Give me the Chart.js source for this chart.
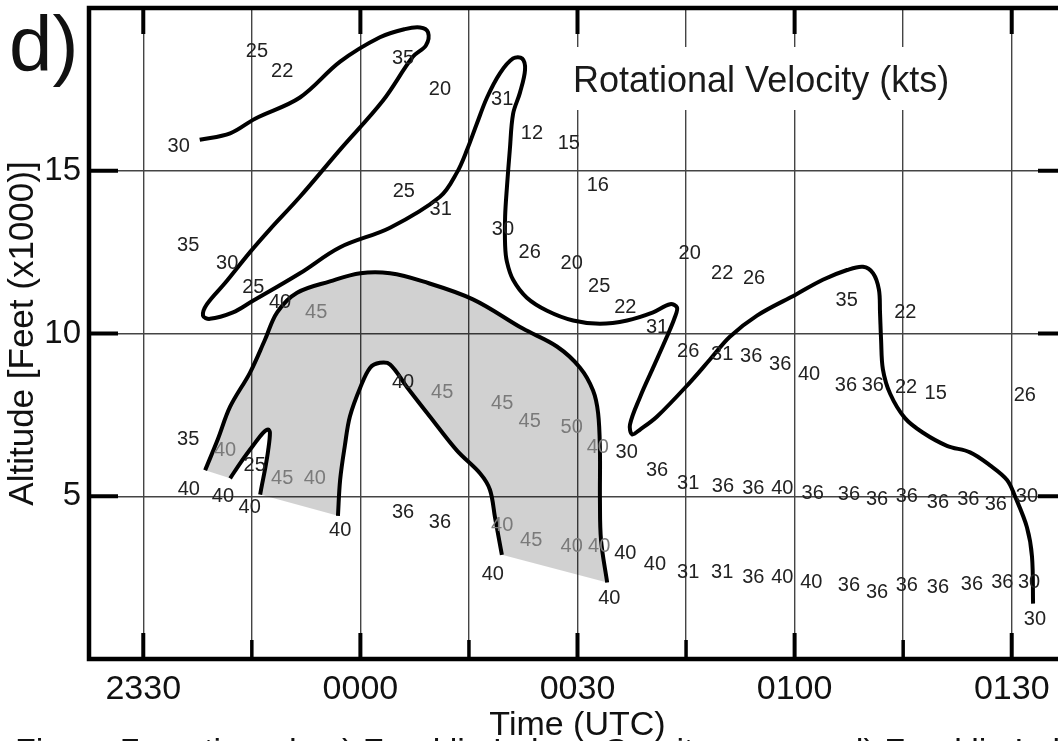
<!DOCTYPE html>
<html>
<head>
<meta charset="utf-8">
<script src="https://cdn.jsdelivr.net/npm/chart.js@4.4.0/dist/chart.umd.min.js"></script>
<style>
  html, body { margin: 0; padding: 0; background: #fff; overflow: hidden; }
  #wrap { position: relative; width: 1058px; height: 741px; overflow: hidden; }
  canvas { position: absolute; left: 0; top: 0; }
</style>
</head>
<body>
<div id="wrap"><canvas id="velocityChart" width="1080" height="741"></canvas></div>
<script>
Chart.defaults.font.family = '"Liberation Sans", Arial, sans-serif';
Chart.defaults.color = '#111';

// time axis in minutes from 0000 UTC
const xGridMinutes = [-30, -15, 0, 15, 30, 45, 60, 75, 90];
const xTickMinutes = [-30, 0, 30, 60, 90];
const xTickLabels = ['2330', '0000', '0030', '0100', '0130'];
const yTickValues = [5, 10, 15];

// contours [minutes, altitude kft]
const contourLong = [
  [-22.2, 15.95], [-18.0, 16.15], [-14.55, 16.6], [-8.35, 17.25], [-2.8, 18.35], [2.7, 19.1],
  [6.15, 19.35], [8.25, 19.4], [9.35, 19.25], [9.05, 18.85], [7.25, 18.5], [3.1, 17.15],
  [-2.8, 15.65], [-8.35, 14.2], [-12.5, 13.2], [-15.25, 12.5], [-18.7, 11.55], [-21.2, 10.9],
  [-21.75, 10.55], [-20.8, 10.45], [-17.6, 10.65], [-15.25, 10.95], [-8.35, 11.85], [-2.8, 12.65],
  [4.1, 13.25], [11.0, 14.2], [13.35, 14.95], [14.75, 15.65], [16.1, 16.45], [17.5, 17.25],
  [19.3, 18.0], [21.1, 18.45], [22.35, 18.45], [22.75, 18.1], [22.05, 17.4], [21.1, 16.75],
  [20.65, 15.65], [20.25, 14.5], [20.0, 13.6], [20.0, 12.7], [20.25, 12.2], [21.1, 11.65],
  [23.0, 11.1], [25.8, 10.7], [29.4, 10.4], [33.1, 10.3], [36.85, 10.4], [40.45, 10.65],
  [42.8, 10.9], [43.75, 10.8], [43.45, 10.5], [42.35, 9.9], [40.45, 8.95], [38.65, 8.05],
  [37.25, 7.2], [37.55, 6.9], [38.65, 7.05], [41.0, 7.45], [45.55, 8.5], [48.3, 9.2],
  [51.05, 9.9], [54.8, 10.55], [60.2, 11.2], [63.9, 11.65], [67.25, 11.95], [69.45, 12.05],
  [70.85, 11.85], [71.65, 11.35], [71.8, 10.65], [71.95, 9.8], [72.2, 8.9], [73.2, 8.15],
  [75.25, 7.4], [77.75, 6.95], [81.05, 6.55], [84.25, 6.35], [87.0, 5.95], [89.35, 5.5],
  [90.45, 5.0], [92.1, 4.05], [92.8, 3.15], [92.95, 1.7]
];
const contourShadeTop = [
  [-21.45, 5.8], [-19.7, 6.75], [-18.0, 7.75], [-15.25, 8.8], [-13.2, 9.8], [-11.5, 10.65],
  [-8.75, 11.25], [-4.2, 11.6], [0, 11.85], [4.1, 11.85], [8.65, 11.6], [15.55, 11.05],
  [22.45, 10.15], [27.15, 9.6], [30.35, 8.95], [32.15, 8.25], [32.85, 7.55], [33.1, 6.4],
  [33.1, 4.9], [33.25, 3.65], [34.1, 2.35]
];
const contourArch = [
  [-3.1, 4.4], [-2.8, 5.5], [-2.15, 6.55], [-1.45, 7.45], [0, 8.35], [1.35, 8.95], [2.7, 9.1],
  [4.1, 9.05], [6.45, 8.35], [9.6, 7.45], [13.35, 6.4], [16.55, 5.7], [17.9, 5.2], [18.6, 4.35],
  [19.55, 3.2]
];
const contourHook = [
  [-18.0, 5.55], [-16.5, 6.05], [-14.85, 6.55], [-13.45, 6.95], [-12.75, 7.05], [-12.5, 6.95],
  [-12.75, 6.4], [-13.2, 5.8], [-13.6, 5.35], [-13.85, 5.05]
];

// velocity values written on the section [minutes, kft, text]
const blackLabels = [
  [-14.3, 18.65, '25'], [-10.8, 18.05, '22'], [-25.1, 15.75, '30'], [-23.8, 12.7, '35'],
  [5.9, 18.45, '35'], [11.0, 17.5, '20'], [19.6, 17.2, '31'], [23.7, 16.15, '12'], [28.8, 15.85, '15'],
  [32.8, 14.55, '16'], [6.0, 14.35, '25'], [11.1, 13.8, '31'], [19.7, 13.2, '30'], [23.4, 12.5, '26'],
  [29.2, 12.15, '20'], [33.0, 11.45, '25'], [36.6, 10.8, '22'], [41.0, 10.2, '31'], [45.3, 9.45, '26'],
  [-18.4, 12.15, '30'], [-14.8, 11.4, '25'], [-11.1, 10.95, '40'],
  [-23.8, 6.75, '35'], [-14.6, 5.95, '25'], [-23.7, 5.2, '40'], [-19.0, 5.0, '40'], [-15.3, 4.65, '40'],
  [-2.8, 3.95, '40'], [5.9, 8.5, '40'], [36.8, 6.35, '30'], [41.0, 5.8, '36'],
  [45.5, 12.45, '20'], [50.0, 11.85, '22'], [54.4, 11.7, '26'], [67.2, 11.0, '35'], [75.3, 10.65, '22'],
  [50.0, 9.35, '31'], [54.0, 9.3, '36'], [58.0, 9.05, '36'], [62.0, 8.75, '40'], [67.1, 8.4, '36'],
  [70.8, 8.4, '36'], [75.4, 8.35, '22'], [79.5, 8.15, '15'], [91.8, 8.1, '26'],
  [45.3, 5.4, '31'], [50.1, 5.3, '36'], [54.3, 5.25, '36'], [58.3, 5.25, '40'], [62.5, 5.1, '36'],
  [67.5, 5.05, '36'], [71.4, 4.9, '36'], [75.5, 5.0, '36'], [79.8, 4.8, '36'], [84.0, 4.9, '36'],
  [87.8, 4.75, '36'], [92.1, 5.0, '30'],
  [5.9, 4.5, '36'], [11.0, 4.2, '36'], [18.3, 2.6, '40'], [34.4, 1.85, '40'],
  [36.6, 3.25, '40'], [40.7, 2.9, '40'], [45.3, 2.65, '31'], [50.0, 2.65, '31'], [54.3, 2.5, '36'],
  [58.3, 2.5, '40'], [62.3, 2.35, '40'], [67.5, 2.25, '36'], [71.4, 2.05, '36'], [75.5, 2.25, '36'],
  [79.8, 2.2, '36'], [84.5, 2.3, '36'], [88.7, 2.35, '36'], [92.4, 2.35, '30'], [93.2, 1.2, '30']
];
const greyLabels = [
  [-6.1, 10.65, '45'], [-18.7, 6.4, '40'], [-10.8, 5.55, '45'], [-6.3, 5.55, '40'],
  [11.3, 8.2, '45'], [19.6, 7.85, '45'], [23.4, 7.3, '45'], [29.2, 7.1, '50'], [32.8, 6.5, '40'],
  [19.6, 4.1, '40'], [23.6, 3.65, '45'], [29.2, 3.45, '40'], [33.0, 3.45, '40']
];

// shaded >= 40 kt area: outer contour, then arch and hook walked backwards
const shadePolygon = contourShadeTop
  .concat(contourArch.slice().reverse())
  .concat(contourHook.slice().reverse());

const FONT = '"Liberation Sans", Arial, sans-serif';

const shadePlugin = {
  id: 'shade',
  beforeDatasetsDraw(chart) {
    const { ctx, scales: { x, y } } = chart;
    ctx.save();
    ctx.beginPath();
    shadePolygon.forEach(([m, k], i) => {
      const px = x.getPixelForValue(m);
      const py = y.getPixelForValue(k);
      if (i) ctx.lineTo(px, py); else ctx.moveTo(px, py);
    });
    ctx.closePath();
    ctx.fillStyle = 'rgba(0,0,0,0.18)';
    ctx.fill();

    // title with its white box over the grid
    ctx.fillStyle = '#fff';
    ctx.fillRect(566, 47, 396, 63);
    ctx.fillStyle = '#1a1a1a';
    ctx.font = '36px ' + FONT;
    ctx.textBaseline = 'alphabetic';
    ctx.fillText('Rotational Velocity (kts)', 573, 92);
    ctx.restore();
  }
};

const labelsPlugin = {
  id: 'valueLabels',
  afterDatasetsDraw(chart) {
    const { ctx, scales: { x, y } } = chart;
    ctx.save();
    ctx.font = '20px ' + FONT;
    ctx.textAlign = 'center';
    ctx.textBaseline = 'middle';
    ctx.fillStyle = '#222';
    blackLabels.forEach(([m, k, t]) => ctx.fillText(t, x.getPixelForValue(m), y.getPixelForValue(k)));
    ctx.fillStyle = '#7a7a7a';
    greyLabels.forEach(([m, k, t]) => ctx.fillText(t, x.getPixelForValue(m), y.getPixelForValue(k)));
    ctx.restore();
  }
};

const frameTicks = {
  id: 'frameTicks',
  afterDraw(chart) {
    const { ctx, chartArea: a, scales: { x, y } } = chart;
    ctx.save();
    ctx.strokeStyle = '#000';
    xGridMinutes.forEach((m) => {
      const px = x.getPixelForValue(m);
      const major = xTickMinutes.includes(m);
      ctx.lineWidth = major ? 4 : 3.5;
      ctx.beginPath();
      ctx.moveTo(px, a.bottom);
      ctx.lineTo(px, a.bottom - (major ? 26 : 19));
      if (major) {
        ctx.moveTo(px, a.top);
        ctx.lineTo(px, a.top + 26);
      }
      ctx.stroke();
    });
    yTickValues.forEach((v) => {
      const py = y.getPixelForValue(v);
      ctx.lineWidth = 4;
      ctx.beginPath();
      ctx.moveTo(a.left, py);
      ctx.lineTo(a.left + 29, py);
      ctx.moveTo(a.right, py);
      ctx.lineTo(a.right - 28, py);
      ctx.stroke();
    });
    ctx.lineWidth = 4.5;
    ctx.strokeRect(a.left, a.top, a.right - a.left, a.bottom - a.top);

    // panel letter and cut-off caption
    ctx.fillStyle = '#111';
    ctx.font = '78px ' + FONT;
    ctx.fillText('d)', 9, 71);
    ctx.font = '34px ' + FONT;
    ctx.fillText('Figure 7 continued.  c) Franklin Lakes, Gravity waves   d) Franklin Lakes', 15, 762);
    ctx.restore();
  }
};

const contourSet = (pts) => ({
  data: pts,
  showLine: true,
  borderColor: '#000',
  borderWidth: 4,
  pointRadius: 0,
  tension: 0.35,
  fill: false,
});

new Chart(document.getElementById('velocityChart'), {
  type: 'scatter',
  data: {
    datasets: [contourLong, contourShadeTop, contourArch, contourHook].map(contourSet),
  },
  options: {
    responsive: false,
    animation: false,
    devicePixelRatio: 1,
    layout: { padding: { top: 8, right: 14, left: 0, bottom: 0 } },
    plugins: { legend: { display: false }, tooltip: { enabled: false } },
    scales: {
      x: {
        type: 'linear',
        min: -37.5,
        max: 97.5,
        afterFit: (s) => { s.height = 82; s.paddingLeft = 0; s.paddingRight = 0; },
        afterBuildTicks: (s) => { s.ticks = xGridMinutes.map((v) => ({ value: v })); },
        grid: { color: '#444', lineWidth: 1.4, drawTicks: false },
        border: { display: false },
        ticks: {
          autoSkip: false,
          maxRotation: 0,
          padding: 10,
          color: '#111',
          font: { size: 34 },
          callback: (v) => {
            const i = xTickMinutes.indexOf(v);
            return i >= 0 ? xTickLabels[i] : '';
          },
        },
        title: { display: true, text: 'Time (UTC)', color: '#111', font: { size: 34 }, padding: { top: 0, bottom: -5 } },
      },
      y: {
        min: 0,
        max: 20,
        afterFit: (s) => { s.width = 89; s.paddingTop = 0; s.paddingBottom = 0; },
        afterBuildTicks: (s) => { s.ticks = yTickValues.map((v) => ({ value: v })); },
        grid: { color: '#444', lineWidth: 1.4, drawTicks: false },
        border: { display: false },
        ticks: { padding: 8, color: '#111', font: { size: 33 } },
        title: { display: true, text: 'Altitude [Feet (x1000)]', color: '#111', font: { size: 35 }, padding: { top: 2, bottom: 0 } },
      },
    },
  },
  plugins: [shadePlugin, labelsPlugin, frameTicks],
});
</script>
</body>
</html>
